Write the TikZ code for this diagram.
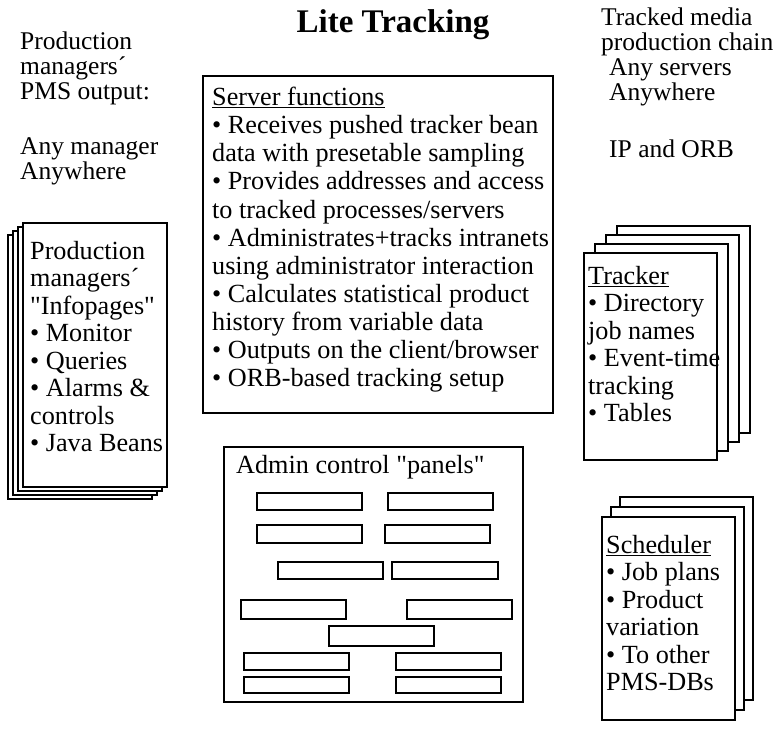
\documentclass[tikz,border=0pt]{standalone}
\usepackage{fontspec}
\setmainfont{Liberation Serif}[Ligatures=TeXOff]
\tikzset{
  pg/.style={draw=black, line width=1.6pt, fill=white},
  pnl/.style={draw=black, line width=1.8pt},
  slot/.style={draw=black, line width=2.2pt},
  txt/.style={anchor=north west, align=left, inner sep=0pt, font=\fontsize{26.2}{27.5}\selectfont},
  loose/.style={txt, font=\fontsize{25.5}{25}\selectfont},
  ttl/.style={anchor=base, inner sep=0pt, font=\fontsize{33}{38}\selectfont\bfseries},
}

\begin{document}
\begin{tikzpicture}[x=1pt, y=-1pt]
  \useasboundingbox (0,0) rectangle (782,731);
  \node[ttl] (title) at (393,32) {Lite Tracking};

  % left: managers' output
  \node[loose] (pmsout) at (20,32) {Production\\managers´\\PMS output:};
  \node[loose] (anymgr) at (20,137) {Any manager\\Anywhere};
  \foreach \k in {3,2,1,0}
    \draw[pg] (23-5*\k,223+4*\k) rectangle (167-5*\k,487+4*\k);
  \node[txt] (infopg) at (30,241) {Production\\managers´\\"Infopages"\\• Monitor\\• Queries\\• Alarms \&\\controls\\• Java Beans};

  % middle: server and admin panels
  \draw[pnl] (203,76) rectangle (553,413);
  \node[txt, font=\fontsize{26.2}{28.1}\selectfont] (srvfn) at (212,87) {\underline{Server functions}\\
    • Receives pushed tracker bean\\data with presetable sampling\\
    • Provides addresses and access\\to tracked processes/servers\\
    • Administrates+tracks intranets\\using administrator interaction\\
    • Calculates statistical product\\history from variable data\\
    • Outputs on the client/browser\\• ORB-based tracking setup};
  \draw[pnl] (224,447) rectangle (523,702);
  \node[txt] (admin) at (236,455) {Admin control "panels"};
  \foreach \xa/\ya/\xb/\yb in {257/493/362/510, 388/493/493/510, 257/525/362/543, 385/525/490/543,
      278/562/383/579, 392/562/498/579, 241/600/346/619, 407/600/512/619, 329/626/434/646,
      244/653/349/670, 396/653/501/670, 244/677/349/693, 396/677/501/693}
    \draw[slot] (\xa,\ya) rectangle (\xb,\yb);

  % right: production chain
  \node[loose] (chain) at (601,8) {Tracked media\\production chain};
  \node[loose] (anysrv) at (609,58) {Any servers\\Anywhere};
  \node[loose] (iporb) at (609,140) {IP and ORB};
  \foreach \k in {3,2,1,0}
    \draw[pg] (584+11*\k,253-9*\k) rectangle (717+11*\k,460-9*\k);
  \node[txt] (tracker) at (588,266) {\underline{Tracker}\\• Directory\\job names\\• Event-time\\tracking\\• Tables};
  \foreach \k in {2,1,0}
    \draw[pg] (602+9*\k,517-10*\k) rectangle (735+9*\k,720-10*\k);
  \node[txt] (sched) at (606,535) {\underline{Scheduler}\\• Job plans\\• Product\\variation\\• To other\\PMS-DBs};
\end{tikzpicture}
\end{document}
